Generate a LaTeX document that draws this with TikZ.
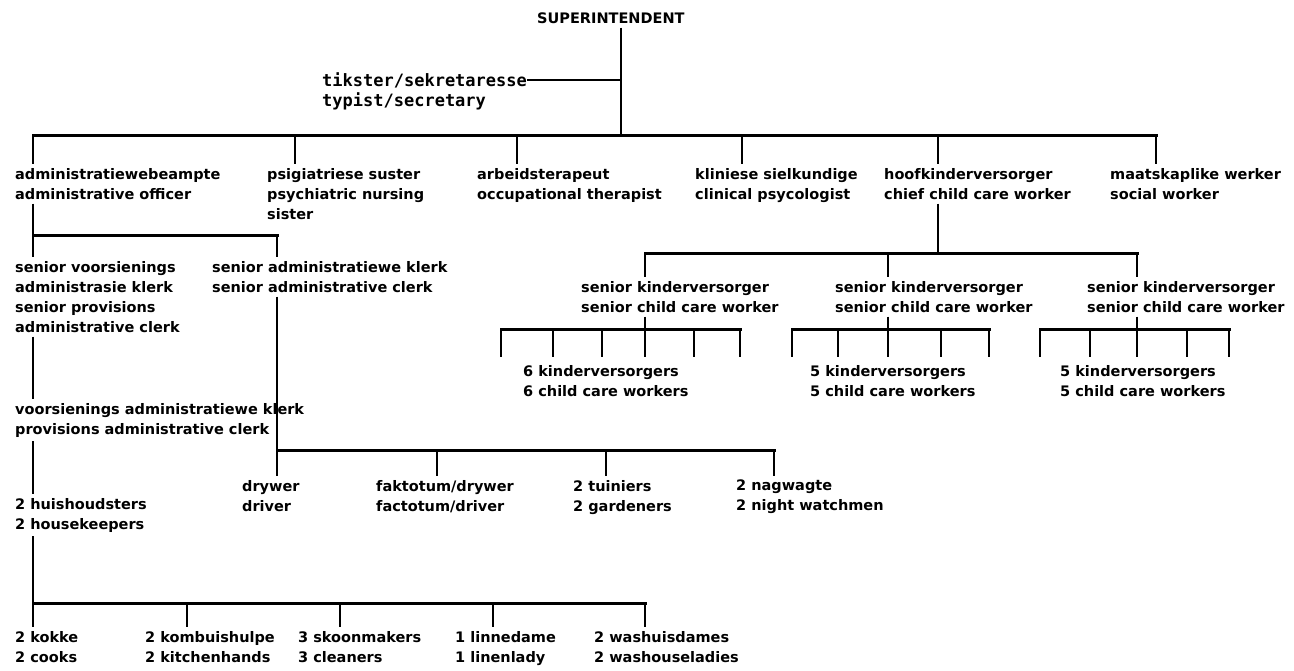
\documentclass[tikz,border=0pt]{standalone}
\usepackage{fontspec}
\setmainfont{DejaVu Sans}
\newfontfamily\monof{DejaVu Sans Mono}
\begin{document}
\begin{tikzpicture}[x=1pt,y=-1pt,
  lab/.style={anchor=north west, inner xsep=0pt, inner ysep=4pt, align=left,
              font=\fontsize{14.5}{20}\selectfont\bfseries},
  mono/.style={anchor=west, inner xsep=0pt, inner ysep=4pt,
              font=\monof\fontsize{17}{21}\selectfont\bfseries},
  conn/.style={line width=2pt},
  bar/.style={line width=3pt, line cap=rect}]
\useasboundingbox[fill=white] (0,0) rectangle (1294,670);

% ---- top ----
\node[lab, anchor=west] (sup) at (537,18) {SUPERINTENDENT};
\node[mono] (tik1) at (322,80) {tikster/sekretaresse};
\node[mono] (tik2) at (322,101) {typist/secretary};

\node[lab] (adm)  at (15,164)  {administratiewebeampte\\administrative officer};
\node[lab] (psig) at (267,164) {psigiatriese suster\\psychiatric nursing\\sister};
\node[lab] (arb)  at (477,164) {arbeidsterapeut\\occupational therapist};
\node[lab] (klin) at (695,164) {kliniese sielkundige\\clinical psycologist};
\node[lab] (hoof) at (884,164) {hoofkinderversorger\\chief child care worker};
\node[lab] (maat) at (1110,164) {maatskaplike werker\\social worker};

\coordinate (vS) at (621,135);
\coordinate (bL) at (33,135);
\coordinate (bR) at (1156,135);
\draw[conn] (sup.south -| vS) -- (vS);
\draw[conn] (tik1.east) -- (tik1.east -| vS);
\draw[bar] (bL) -- (bR);
\foreach \n/\x in {adm/33, psig/295, arb/517, klin/742, hoof/938, maat/1156}{
  \coordinate (t\n) at (\x,135);
  \draw[conn] (t\n) -- (\n.north -| t\n);
}

% ---- left column ----
\coordinate (jA) at (33,235);
\coordinate (jB) at (277,235);
\node[lab] (svs) at (15,257) {senior voorsienings\\administrasie klerk\\senior provisions\\administrative clerk};
\node[lab] (sak) at (212,257) {senior administratiewe klerk\\senior administrative clerk};
\draw[conn] (adm.south -| jA) -- (svs.north -| jA);
\draw[bar] (jA) -- (jB);
\draw[conn] (jB) -- (sak.north -| jB);

\node[lab] (vak) at (15,399) {voorsienings administratiewe klerk\\provisions administrative clerk};
\draw[conn] (svs.south -| jA) -- (vak.north -| jA);

\node[lab] (dry) at (242,476) {drywer\\driver};
\node[lab] (fak) at (376,476) {faktotum/drywer\\factotum/driver};
\node[lab] (tui) at (573,476) {2 tuiniers\\2 gardeners};
\node[lab] (nag) at (736,476) {2 nagwagte\\2 night watchmen};
\coordinate (dB0) at (277,450);
\coordinate (dB1) at (774,450);
\draw[conn] (sak.south -| jB) -- (dry.north -| jB);
\draw[bar] (dB0) -- (dB1);
\foreach \n/\x in {fak/437, tui/606, nag/774}{
  \coordinate (d\n) at (\x,450);
  \draw[conn] (d\n) -- (\n.north -| d\n);
}

\node[lab] (hh) at (15,494) {2 huishoudsters\\2 housekeepers};
\draw[conn] (vak.south -| jA) -- (hh.north -| jA);

\node[lab] (kok) at (15,627)  {2 kokke\\2 cooks};
\node[lab] (kom) at (145,627) {2 kombuishulpe\\2 kitchenhands};
\node[lab] (sko) at (298,627) {3 skoonmakers\\3 cleaners};
\node[lab] (lin) at (455,627) {1 linnedame\\1 linenlady};
\node[lab] (was) at (594,627) {2 washuisdames\\2 washouseladies};
\coordinate (kB0) at (33,603);
\coordinate (kB1) at (645,603);
\draw[conn] (hh.south -| jA) -- (kok.north -| jA);
\draw[bar] (kB0) -- (kB1);
\foreach \n/\x in {kom/187, sko/340, lin/493, was/645}{
  \coordinate (k\n) at (\x,603);
  \draw[conn] (k\n) -- (\n.north -| k\n);
}

% ---- child care branch ----
\coordinate (sB0) at (645,253);
\coordinate (sB1) at (1137,253);
\coordinate (sM) at (938,253);
\draw[conn] (hoof.south -| sM) -- (sM);
\draw[bar] (sB0) -- (sB1);
\node[lab] (s1) at (581,277)  {senior kinderversorger\\senior child care worker};
\node[lab] (s2) at (835,277)  {senior kinderversorger\\senior child care worker};
\node[lab] (s3) at (1087,277) {senior kinderversorger\\senior child care worker};
\node[lab] (c1) at (523,361)  {6 kinderversorgers\\6 child care workers};
\node[lab] (c2) at (810,361)  {5 kinderversorgers\\5 child care workers};
\node[lab] (c3) at (1060,361) {5 kinderversorgers\\5 child care workers};

\foreach \n/\x in {s1/645, s2/888, s3/1137}{
  \coordinate (u\n) at (\x,253);
  \coordinate (l\n) at (\x,329);
  \draw[conn] (u\n) -- (\n.north -| u\n);
  \draw[conn] (\n.south -| l\n) -- (l\n);
}
\draw[bar] (501,329) -- (740,329);
\draw[bar] (792,329) -- (989,329);
\draw[bar] (1040,329) -- (1229,329);
\foreach \x in {501,553,602,645,694,740, 792,838,888,941,989, 1040,1090,1137,1187,1229}{
  \draw[conn] (\x,329) -- (\x,357);
}
\end{tikzpicture}
\end{document}
